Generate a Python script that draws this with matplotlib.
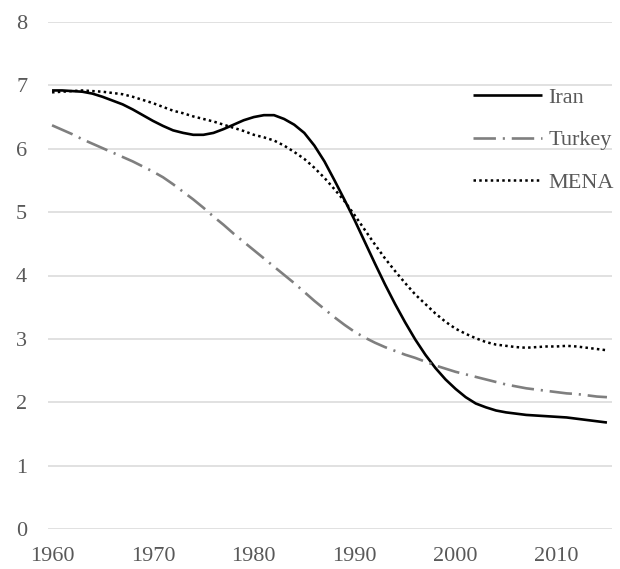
import matplotlib
matplotlib.use("Agg")
import matplotlib.pyplot as plt

# --- data (total fertility rate, births per woman) ---
years = list(range(1960, 2016))

iran = [6.92, 6.92, 6.91, 6.90, 6.87, 6.82, 6.76, 6.70, 6.62, 6.53,
        6.44, 6.36, 6.29, 6.25, 6.22, 6.22, 6.25, 6.31, 6.38, 6.45,
        6.50, 6.53, 6.53, 6.47, 6.38, 6.25, 6.05, 5.80, 5.50, 5.19,
        4.87, 4.53, 4.19, 3.86, 3.55, 3.26, 2.99, 2.75, 2.54, 2.36,
        2.21, 2.08, 1.98, 1.92, 1.87, 1.84, 1.82, 1.80, 1.79, 1.78,
        1.77, 1.76, 1.74, 1.72, 1.70, 1.68]

turkey = [6.37, 6.30, 6.23, 6.15, 6.08, 6.01, 5.94, 5.87, 5.80, 5.72,
          5.64, 5.55, 5.44, 5.32, 5.20, 5.07, 4.93, 4.80, 4.66, 4.53,
          4.40, 4.27, 4.14, 4.01, 3.88, 3.74, 3.60, 3.47, 3.34, 3.22,
          3.11, 3.02, 2.94, 2.87, 2.81, 2.75, 2.70, 2.64, 2.58, 2.53,
          2.48, 2.44, 2.40, 2.36, 2.32, 2.28, 2.25, 2.22, 2.20, 2.18,
          2.16, 2.14, 2.13, 2.11, 2.09, 2.08]

mena = [6.89, 6.90, 6.91, 6.92, 6.91, 6.90, 6.88, 6.86, 6.82, 6.77,
        6.72, 6.66, 6.60, 6.56, 6.51, 6.47, 6.43, 6.38, 6.33, 6.28,
        6.22, 6.18, 6.13, 6.05, 5.95, 5.84, 5.70, 5.54, 5.36, 5.17,
        4.95, 4.72, 4.49, 4.27, 4.07, 3.88, 3.70, 3.55, 3.40, 3.27,
        3.16, 3.08, 3.01, 2.95, 2.91, 2.89, 2.87, 2.86, 2.87, 2.88,
        2.88, 2.89, 2.88, 2.86, 2.84, 2.82]

x_ticks = [1960, 1970, 1980, 1990, 2000, 2010]
y_ticks = list(range(0, 9))

TEXT = "#595959"
GRID = "#d9d9d9"

plt.rcParams["font.family"] = ["Liberation Serif", "DejaVu Serif"]
plt.rcParams["font.size"] = 16

fig = plt.figure(figsize=(6.2, 5.69), dpi=100)
ax = fig.add_axes([48 / 620, 40 / 569, 564 / 620, 507 / 569])

ax.plot(years, iran, color="black", lw=1.9, label="Iran", solid_capstyle="butt")
ax.plot(years, turkey, color="#7f7f7f", lw=1.9, label="Turkey",
        dashes=(8.5, 2.6, 0.8, 2.6), dash_capstyle="butt")
ax.plot(years, mena, color="black", lw=1.8, label="MENA",
        dashes=(1.0, 1.3), dash_capstyle="butt")

ax.set_xlim(1959.6, 2015.5)
ax.set_ylim(0, 8)
ax.set_xticks(x_ticks)
ax.set_yticks(y_ticks)
ax.grid(axis="y", color=GRID, lw=1.1)
ax.set_axisbelow(True)
for s in ax.spines.values():
    s.set_visible(False)
ax.tick_params(axis="both", length=0, colors=TEXT, labelsize=16)
ax.tick_params(axis="y", pad=15)
ax.tick_params(axis="x", pad=13)

leg = ax.legend(loc="center left", bbox_to_anchor=(473 / 620, 1 - 140 / 569),
                bbox_transform=fig.transFigure, frameon=False,
                handlelength=3.1, handletextpad=0.3, labelspacing=0.98,
                borderpad=0, borderaxespad=0, fontsize=16)
for t in leg.get_texts():
    t.set_color(TEXT)

fig.savefig("out.png", dpi=100)
